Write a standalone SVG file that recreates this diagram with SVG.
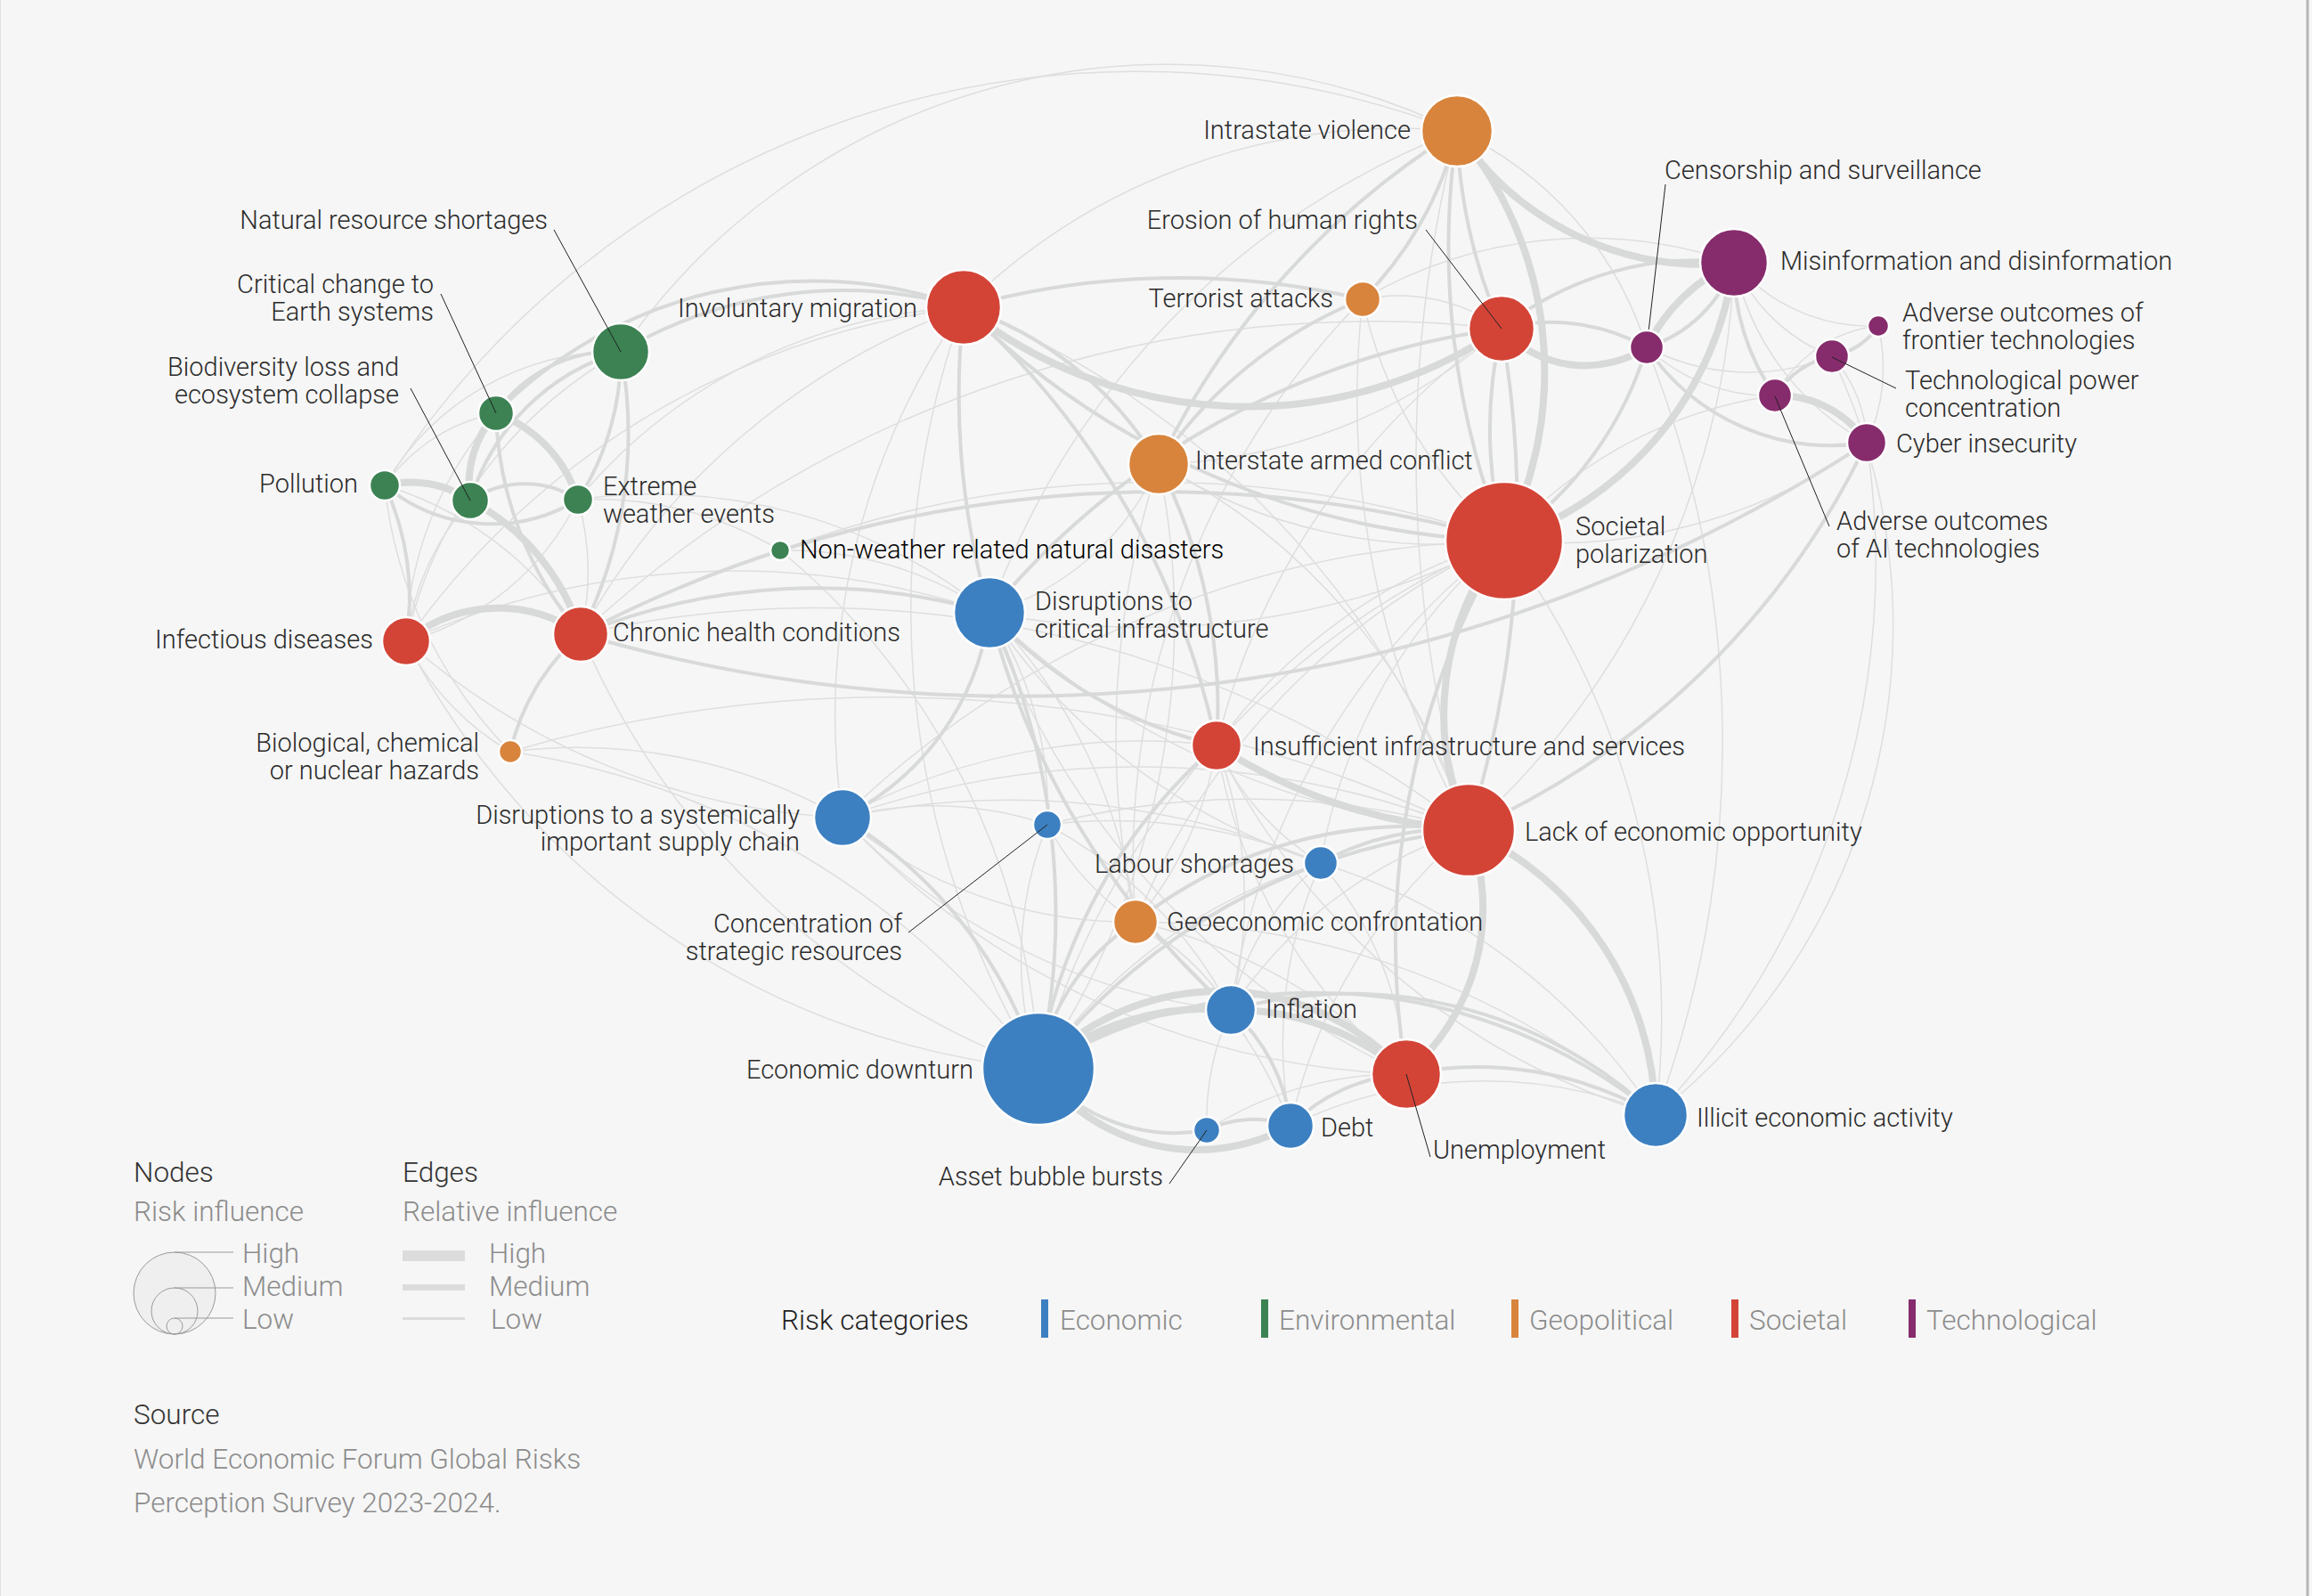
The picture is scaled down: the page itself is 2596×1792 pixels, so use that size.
<svg xmlns="http://www.w3.org/2000/svg" width="2596" height="1792" viewBox="0 0 2596 1792">
<style>
.bg{fill:#f6f6f6}
.e1,.e2,.e3{fill:none;stroke:#d8d9d9;stroke-linecap:round}
.e1{stroke-width:1.5;stroke:#dedede}
.e2{stroke-width:4}
.e3{stroke-width:8}
circle.n{stroke:#fff;stroke-width:2.5}
.eco{fill:#3d80c1}.env{fill:#3c8253}.geo{fill:#d8843d}.soc{fill:#d34437}.tec{fill:#862c6c}
text{font-family:Roboto,"Liberation Sans",Arial,sans-serif;font-weight:300;font-size:29px;fill:#2b2b2b}
.blk{fill:#000}
.ld{stroke:#222;stroke-width:1;fill:none}
.lg{fill:#8c8c8c;font-size:31.5px}
.lh{fill:#333;font-size:31.5px}
.lgl{stroke:#999;stroke-width:1;fill:none}
.bar{fill:#dcdcdc}
</style>
<rect class="bg" x="0" y="0" width="2596" height="1792"/>
<line x1="2591" y1="0" x2="2591" y2="1792" stroke="#b5b5b5" stroke-width="3"/>
<line x1="0.5" y1="0" x2="0.5" y2="1792" stroke="#e2e2e2" stroke-width="1"/>
<g id="connectors">
<path class="e1" d="M1636 147 A745 745 0 0 0 697 395"/>
<path class="e1" d="M1636 147 A1000 1000 0 0 0 432 545"/>
<path class="e1" d="M1636 147 A400 400 0 0 1 1849 390"/>
<path class="e1" d="M1636 147 A1500 1500 0 0 0 1649 932"/>
<path class="e1" d="M1636 147 A700 700 0 0 0 1082 345"/>
<path class="e1" d="M1636 147 A900 900 0 0 0 1111 688"/>
<path class="e1" d="M1530 336 A500 500 0 0 0 1689 607"/>
<path class="e1" d="M1530 336 A200 200 0 0 1 1686 369"/>
<path class="e1" d="M1530 336 A1000 1000 0 0 0 1649 932"/>
<path class="e1" d="M1530 336 A500 500 0 0 1 1947 295"/>
<path class="e1" d="M1530 336 A900 900 0 0 0 1275 1035"/>
<path class="e1" d="M1301 521 A1000 1000 0 0 0 1275 1035"/>
<path class="e1" d="M1301 521 A900 900 0 0 1 1166 1200"/>
<path class="e1" d="M1301 521 A600 600 0 0 0 1689 607"/>
<path class="e1" d="M1301 521 A300 300 0 0 1 1111 688"/>
<path class="e1" d="M1301 521 A700 700 0 0 1 1649 932"/>
<path class="e1" d="M1082 345 A1000 1000 0 0 1 1649 932"/>
<path class="e1" d="M1082 345 A1000 1000 0 0 0 1166 1200"/>
<path class="e1" d="M1082 345 A800 800 0 0 0 652 712"/>
<path class="e1" d="M1082 345 A600 600 0 0 0 649 561"/>
<path class="e1" d="M1082 345 A800 800 0 0 0 946 918"/>
<path class="e1" d="M1082 345 A900 900 0 0 0 456 720"/>
<path class="e1" d="M1947 295 A200 200 0 0 0 2057 400"/>
<path class="e1" d="M1947 295 A200 200 0 0 0 2109 366"/>
<path class="e1" d="M1947 295 A300 300 0 0 0 2096 497"/>
<path class="e1" d="M1947 295 A900 900 0 0 1 1649 932"/>
<path class="e1" d="M1849 390 A200 200 0 0 0 1993 444"/>
<path class="e1" d="M1849 390 A250 250 0 0 0 2057 400"/>
<path class="e1" d="M1849 390 A1200 1200 0 0 1 1859 1252"/>
<path class="e1" d="M2057 400 A150 150 0 0 1 2096 497"/>
<path class="e1" d="M2109 366 A200 200 0 0 1 2096 497"/>
<path class="e1" d="M2109 366 A150 150 0 0 0 1993 444"/>
<path class="e1" d="M2096 497 A600 600 0 0 1 1689 607"/>
<path class="e1" d="M1993 444 A500 500 0 0 0 1689 607"/>
<path class="e1" d="M2096 497 A900 900 0 0 1 1859 1252"/>
<path class="e1" d="M2057 400 A700 700 0 0 1 1859 1252"/>
<path class="e1" d="M1686 369 A600 600 0 0 1 1301 521"/>
<path class="e1" d="M1686 369 A1300 1300 0 0 0 652 712"/>
<path class="e1" d="M1686 369 A800 800 0 0 0 1366 837"/>
<path class="e1" d="M1689 607 A600 600 0 0 0 1366 837"/>
<path class="e1" d="M1689 607 A900 900 0 0 0 1166 1200"/>
<path class="e1" d="M1689 607 A900 900 0 0 1 1859 1252"/>
<path class="e1" d="M1689 607 A800 800 0 0 0 1275 1035"/>
<path class="e1" d="M1689 607 A1100 1100 0 0 0 946 918"/>
<path class="e1" d="M1689 607 A800 800 0 0 0 1382 1134"/>
<path class="e1" d="M1689 607 A600 600 0 0 0 1483 969"/>
<path class="e1" d="M1689 607 A900 900 0 0 1 1111 688"/>
<path class="e1" d="M1111 688 A600 600 0 0 1 1275 1035"/>
<path class="e1" d="M1111 688 A400 400 0 0 1 1176 926"/>
<path class="e1" d="M1111 688 A900 900 0 0 0 1579 1206"/>
<path class="e1" d="M1111 688 A900 900 0 0 0 1649 932"/>
<path class="e1" d="M1111 688 A700 700 0 0 0 1483 969"/>
<path class="e1" d="M946 918 A1000 1000 0 0 1 1649 932"/>
<path class="e1" d="M946 918 A500 500 0 0 0 1275 1035"/>
<path class="e1" d="M946 918 A400 400 0 0 1 1176 926"/>
<path class="e1" d="M946 918 A700 700 0 0 0 1382 1134"/>
<path class="e1" d="M946 918 A900 900 0 0 1 1483 969"/>
<path class="e1" d="M946 918 A700 700 0 0 1 1366 837"/>
<path class="e1" d="M946 918 A900 900 0 0 0 1579 1206"/>
<path class="e1" d="M1366 837 A400 400 0 0 1 1275 1035"/>
<path class="e1" d="M1366 837 A300 300 0 0 0 1483 969"/>
<path class="e1" d="M1366 837 A600 600 0 0 0 1579 1206"/>
<path class="e1" d="M1366 837 A500 500 0 0 1 1382 1134"/>
<path class="e1" d="M1366 837 A800 800 0 0 0 1859 1252"/>
<path class="e1" d="M1649 932 A500 500 0 0 0 1382 1134"/>
<path class="e1" d="M1649 932 A600 600 0 0 0 1449 1264"/>
<path class="e1" d="M1649 932 A900 900 0 0 0 1176 926"/>
<path class="e1" d="M1275 1035 A300 300 0 0 1 1382 1134"/>
<path class="e1" d="M1275 1035 A600 600 0 0 1 1579 1206"/>
<path class="e1" d="M1275 1035 A500 500 0 0 1 1449 1264"/>
<path class="e1" d="M1275 1035 A900 900 0 0 1 1859 1252"/>
<path class="e1" d="M1176 926 A300 300 0 0 0 1275 1035"/>
<path class="e1" d="M1176 926 A400 400 0 0 0 1166 1200"/>
<path class="e1" d="M1176 926 A600 600 0 0 1 1483 969"/>
<path class="e1" d="M1176 926 A500 500 0 0 1 1382 1134"/>
<path class="e1" d="M1483 969 A600 600 0 0 0 1166 1200"/>
<path class="e1" d="M1483 969 A400 400 0 0 1 1579 1206"/>
<path class="e1" d="M1483 969 A300 300 0 0 0 1382 1134"/>
<path class="e1" d="M1483 969 A500 500 0 0 0 1449 1264"/>
<path class="e1" d="M1483 969 A700 700 0 0 1 1859 1252"/>
<path class="e1" d="M1382 1134 A300 300 0 0 0 1355 1269"/>
<path class="e1" d="M1355 1269 A400 400 0 0 1 1579 1206"/>
<path class="e1" d="M697 395 A300 300 0 0 0 432 545"/>
<path class="e1" d="M697 395 A500 500 0 0 0 456 720"/>
<path class="e1" d="M557 464 A200 200 0 0 0 432 545"/>
<path class="e1" d="M557 464 A400 400 0 0 0 456 720"/>
<path class="e1" d="M432 545 A400 400 0 0 1 652 712"/>
<path class="e1" d="M432 545 A500 500 0 0 0 573 844"/>
<path class="e1" d="M528 562 A300 300 0 0 0 456 720"/>
<path class="e1" d="M649 561 A300 300 0 0 1 652 712"/>
<path class="e1" d="M649 561 A300 300 0 0 1 456 720"/>
<path class="e1" d="M649 561 A400 400 0 0 1 876 618"/>
<path class="e1" d="M456 720 A300 300 0 0 0 573 844"/>
<path class="e1" d="M456 720 A900 900 0 0 1 1111 688"/>
<path class="e1" d="M456 720 A800 800 0 0 0 946 918"/>
<path class="e1" d="M573 844 A600 600 0 0 1 946 918"/>
<path class="e1" d="M573 844 A900 900 0 0 1 1166 1200"/>
<path class="e1" d="M876 618 A400 400 0 0 1 1111 688"/>
<path class="e1" d="M876 618 A1200 1200 0 0 1 1689 607"/>
<path class="e1" d="M876 618 A800 800 0 0 1 1166 1200"/>
<path class="e1" d="M652 712 A900 900 0 0 0 1166 1200"/>
<path class="e1" d="M456 720 A900 900 0 0 0 1166 1200"/>
<path class="e1" d="M652 712 A1200 1200 0 0 1 1649 932"/>
<path class="e1" d="M649 561 A600 600 0 0 1 1111 688"/>
<path class="e1" d="M573 844 A1500 1500 0 0 1 1649 932"/>
<path class="e1" d="M1449 1264 A500 500 0 0 1 1859 1252"/>
<path class="e2" d="M1636 147 A900 900 0 0 0 1689 607"/>
<path class="e2" d="M1636 147 A600 600 0 0 0 1686 369"/>
<path class="e2" d="M1636 147 A400 400 0 0 1 1530 336"/>
<path class="e2" d="M1636 147 A900 900 0 0 0 1301 521"/>
<path class="e2" d="M1686 369 A500 500 0 0 0 1689 607"/>
<path class="e2" d="M1686 369 A350 350 0 0 1 1947 295"/>
<path class="e2" d="M1686 369 A220 220 0 0 1 1849 390"/>
<path class="e2" d="M1849 390 A150 150 0 0 0 1947 295"/>
<path class="e2" d="M1530 336 A900 900 0 0 0 1082 345"/>
<path class="e2" d="M1530 336 A500 500 0 0 0 1301 521"/>
<path class="e2" d="M1082 345 A400 400 0 0 1 1301 521"/>
<path class="e2" d="M1082 345 A900 900 0 0 0 1689 607"/>
<path class="e2" d="M1082 345 A900 900 0 0 1 1366 837"/>
<path class="e2" d="M1082 345 A900 900 0 0 0 1111 688"/>
<path class="e2" d="M1301 521 A600 600 0 0 1 1366 837"/>
<path class="e2" d="M1947 295 A250 250 0 0 0 1993 444"/>
<path class="e2" d="M1849 390 A250 250 0 0 0 2096 497"/>
<path class="e2" d="M1849 390 A400 400 0 0 1 1689 607"/>
<path class="e2" d="M1993 444 A100 100 0 0 1 2057 400"/>
<path class="e2" d="M2057 400 A80 80 0 0 0 2109 366"/>
<path class="e2" d="M2096 497 A900 900 0 0 1 1649 932"/>
<path class="e2" d="M652 712 A1745 1745 0 0 0 2096 497"/>
<path class="e2" d="M652 712 A1400 1400 0 0 1 1689 607"/>
<path class="e2" d="M1689 607 A900 900 0 0 0 1579 1206"/>
<path class="e2" d="M1111 688 A300 300 0 0 1 946 918"/>
<path class="e2" d="M1111 688 A800 800 0 0 1 1166 1200"/>
<path class="e2" d="M1111 688 A500 500 0 0 0 1366 837"/>
<path class="e2" d="M1111 688 A900 900 0 0 0 1382 1134"/>
<path class="e2" d="M946 918 A500 500 0 0 1 1166 1200"/>
<path class="e2" d="M1366 837 A600 600 0 0 0 1166 1200"/>
<path class="e2" d="M1649 932 A700 700 0 0 0 1166 1200"/>
<path class="e2" d="M1649 932 A300 300 0 0 0 1483 969"/>
<path class="e2" d="M1649 932 A500 500 0 0 0 1275 1035"/>
<path class="e2" d="M1275 1035 A250 250 0 0 0 1166 1200"/>
<path class="e2" d="M1382 1134 A200 200 0 0 1 1449 1264"/>
<path class="e2" d="M1382 1134 A500 500 0 0 1 1859 1252"/>
<path class="e2" d="M1449 1264 A200 200 0 0 1 1579 1206"/>
<path class="e2" d="M1579 1206 A400 400 0 0 1 1859 1252"/>
<path class="e2" d="M1166 1200 A604 604 0 0 1 1859 1252"/>
<path class="e2" d="M1355 1269 A120 120 0 0 1 1449 1264"/>
<path class="e2" d="M1166 1200 A200 200 0 0 0 1355 1269"/>
<path class="e2" d="M1166 1200 A350 350 0 0 1 1382 1134"/>
<path class="e2" d="M1686 369 A900 900 0 0 0 1111 688"/>
<path class="e2" d="M1686 369 A1200 1200 0 0 1 1649 932"/>
<path class="e2" d="M697 395 A160 160 0 0 0 557 464"/>
<path class="e2" d="M697 395 A250 250 0 0 0 528 562"/>
<path class="e2" d="M697 395 A300 300 0 0 1 649 561"/>
<path class="e2" d="M697 395 A500 500 0 0 1 652 712"/>
<path class="e2" d="M1082 345 A490 490 0 0 0 697 395"/>
<path class="e2" d="M1082 345 A500 500 0 0 0 557 464"/>
<path class="e2" d="M432 545 A187 187 0 0 0 649 561"/>
<path class="e2" d="M528 562 A110 110 0 0 1 649 561"/>
<path class="e2" d="M557 464 A400 400 0 0 0 652 712"/>
<path class="e2" d="M432 545 A300 300 0 0 1 456 720"/>
<path class="e2" d="M652 712 A250 250 0 0 0 573 844"/>
<path class="e2" d="M652 712 A700 700 0 0 1 1111 688"/>
<path class="e3" d="M1636 147 A420 420 0 0 1 1689 607"/>
<path class="e3" d="M1636 147 A330 330 0 0 0 1947 295"/>
<path class="e3" d="M1947 295 A380 380 0 0 1 1689 607"/>
<path class="e3" d="M1686 369 A127 127 0 0 0 1849 390"/>
<path class="e3" d="M1849 390 A200 200 0 0 1 1947 295"/>
<path class="e3" d="M1082 345 A510 510 0 0 0 1686 369"/>
<path class="e3" d="M1689 607 A316 316 0 0 0 1649 932"/>
<path class="e3" d="M1649 932 A245 245 0 0 1 1579 1206"/>
<path class="e3" d="M1649 932 A361 361 0 0 1 1859 1252"/>
<path class="e3" d="M1166 1200 A219 219 0 0 0 1449 1264"/>
<path class="e3" d="M1166 1200 A282 282 0 0 1 1579 1206"/>
<path class="e3" d="M456 720 A162 162 0 0 1 652 712"/>
<path class="e3" d="M432 545 A120 120 0 0 1 528 562"/>
<path class="e3" d="M557 464 A120 120 0 0 0 528 562"/>
<path class="e3" d="M557 464 A150 150 0 0 1 649 561"/>
<path class="e3" d="M528 562 A250 250 0 0 1 652 712"/>
<path class="e3" d="M1993 444 A120 120 0 0 1 2096 497"/>
<path class="e3" d="M1382 1134 A300 300 0 0 0 1166 1200"/>
<path class="e3" d="M1382 1134 A300 300 0 0 1 1579 1206"/>
<path class="e3" d="M1366 837 A600 600 0 0 0 1649 932"/>
</g>
<g id="n-intrastate-violence"><circle class="n geo" cx="1636" cy="147" r="40"/><text x="1584" y="156" text-anchor="end">Intrastate violence</text></g>
<g id="n-censorship"><line class="ld" x1="1870" y1="207" x2="1849" y2="390"/><circle class="n tec" cx="1849" cy="390" r="19"/><text x="1869" y="201">Censorship and surveillance</text></g>
<g id="n-misinformation"><circle class="n tec" cx="1947" cy="295" r="38"/><text x="1999" y="303">Misinformation and disinformation</text></g>
<g id="n-erosion-human-rights"><circle class="n soc" cx="1686" cy="369" r="37"/><line class="ld" x1="1601" y1="258" x2="1686" y2="369"/><text x="1592" y="257" text-anchor="end">Erosion of human rights</text></g>
<g id="n-terrorist-attacks"><circle class="n geo" cx="1530" cy="336" r="20"/><text x="1497" y="345" text-anchor="end">Terrorist attacks</text></g>
<g id="n-involuntary-migration"><circle class="n soc" cx="1082" cy="345" r="42"/><text x="1030" y="356" text-anchor="end">Involuntary migration</text></g>
<g id="n-natural-resource"><circle class="n env" cx="697" cy="395" r="32"/><line class="ld" x1="622" y1="258" x2="697" y2="395"/><text x="615" y="257" text-anchor="end">Natural resource shortages</text></g>
<g id="n-critical-change"><circle class="n env" cx="557" cy="464" r="20"/><line class="ld" x1="495" y1="330" x2="557" y2="464"/><text x="487" y="329" text-anchor="end">Critical change to</text><text x="487" y="360" text-anchor="end">Earth systems</text></g>
<g id="n-biodiversity"><circle class="n env" cx="528" cy="562" r="21"/><line class="ld" x1="461" y1="436" x2="528" y2="562"/><text x="448" y="422" text-anchor="end">Biodiversity loss and</text><text x="448" y="453" text-anchor="end">ecosystem collapse</text></g>
<g id="n-pollution"><circle class="n env" cx="432" cy="545" r="17"/><text x="402" y="553" text-anchor="end">Pollution</text></g>
<g id="n-extreme-weather"><circle class="n env" cx="649" cy="561" r="17"/><text x="677" y="556">Extreme</text><text x="677" y="587">weather events</text></g>
<g id="n-non-weather"><circle class="n env" cx="876" cy="618" r="11"/><text class="blk" x="898" y="627">Non-weather related natural disasters</text></g>
<g id="n-infectious-diseases"><circle class="n soc" cx="456" cy="720" r="27"/><text x="419" y="728" text-anchor="end">Infectious diseases</text></g>
<g id="n-chronic-health"><circle class="n soc" cx="652" cy="712" r="31"/><text x="688" y="720">Chronic health conditions</text></g>
<g id="n-bio-chem-nuclear"><circle class="n geo" cx="573" cy="844" r="13"/><text x="538" y="844" text-anchor="end">Biological, chemical</text><text x="538" y="875" text-anchor="end">or nuclear hazards</text></g>
<g id="n-critical-infrastructure"><circle class="n eco" cx="1111" cy="688" r="40"/><text x="1162" y="685">Disruptions to</text><text x="1162" y="716">critical infrastructure</text></g>
<g id="n-interstate-armed-conflict"><circle class="n geo" cx="1301" cy="521" r="34"/><text x="1342" y="527">Interstate armed conflict</text></g>
<g id="n-societal-polarization"><circle class="n soc" cx="1689" cy="607" r="66"/><text x="1769" y="601">Societal</text><text x="1769" y="632">polarization</text></g>
<g id="n-frontier-tech"><circle class="n tec" cx="2109" cy="366" r="12"/><text x="2136" y="361">Adverse outcomes of</text><text x="2136" y="392">frontier technologies</text></g>
<g id="n-tech-power"><circle class="n tec" cx="2057" cy="400" r="19"/><line class="ld" x1="2129" y1="436" x2="2057" y2="401"/><text x="2139" y="437">Technological power</text><text x="2139" y="468">concentration</text></g>
<g id="n-cyber-insecurity"><circle class="n tec" cx="2096" cy="497" r="22"/><text x="2129" y="508">Cyber insecurity</text></g>
<g id="n-ai-tech"><circle class="n tec" cx="1993" cy="444" r="19"/><line class="ld" x1="2054" y1="591" x2="1993" y2="445"/><text x="2062" y="595">Adverse outcomes</text><text x="2062" y="626">of AI technologies</text></g>
<g id="n-insufficient-infrastructure"><circle class="n soc" cx="1366" cy="837" r="28"/><text x="1407" y="848">Insufficient infrastructure and services</text></g>
<g id="n-lack-econ-opportunity"><circle class="n soc" cx="1649" cy="932" r="52"/><text x="1712" y="944">Lack of economic opportunity</text></g>
<g id="n-supply-chain"><circle class="n eco" cx="946" cy="918" r="32"/><text x="898" y="925" text-anchor="end">Disruptions to a systemically</text><text x="898" y="955" text-anchor="end">important supply chain</text></g>
<g id="n-strategic-resources"><circle class="n eco" cx="1176" cy="926" r="16"/><line class="ld" x1="1020" y1="1047" x2="1176" y2="926"/><text x="1013" y="1047" text-anchor="end">Concentration of</text><text x="1013" y="1078" text-anchor="end">strategic resources</text></g>
<g id="n-labour-shortages"><circle class="n eco" cx="1483" cy="969" r="19"/><text x="1453" y="980" text-anchor="end">Labour shortages</text></g>
<g id="n-geoeconomic"><circle class="n geo" cx="1275" cy="1035" r="25"/><text x="1310" y="1045">Geoeconomic confrontation</text></g>
<g id="n-inflation"><circle class="n eco" cx="1382" cy="1134" r="28"/><text x="1421" y="1143">Inflation</text></g>
<g id="n-economic-downturn"><circle class="n eco" cx="1166" cy="1200" r="63"/><text x="1093" y="1211" text-anchor="end">Economic downturn</text></g>
<g id="n-unemployment"><circle class="n soc" cx="1579" cy="1206" r="39"/><line class="ld" x1="1606" y1="1299" x2="1579" y2="1206"/><text x="1609" y="1301">Unemployment</text></g>
<g id="n-debt"><circle class="n eco" cx="1449" cy="1264" r="26"/><text x="1483" y="1276">Debt</text></g>
<g id="n-asset-bubble"><circle class="n eco" cx="1355" cy="1269" r="15"/><line class="ld" x1="1313" y1="1329" x2="1355" y2="1269"/><text x="1306" y="1331" text-anchor="end">Asset bubble bursts</text></g>
<g id="n-illicit-econ"><circle class="n eco" cx="1859" cy="1252" r="36"/><text x="1905" y="1265">Illicit economic activity</text></g>
<g id="legend-nodes">
<text class="lh" x="150" y="1327">Nodes</text>
<text class="lg" x="150" y="1371">Risk influence</text>
<circle cx="196" cy="1452" r="46" fill="#efefef" stroke="#9a9a9a" stroke-width="1"/>
<circle cx="196" cy="1472" r="26" fill="none" stroke="#9a9a9a" stroke-width="1"/>
<circle cx="196" cy="1489" r="9" fill="none" stroke="#9a9a9a" stroke-width="1"/>
<line class="lgl" x1="196" y1="1406" x2="262" y2="1406"/>
<line class="lgl" x1="196" y1="1446" x2="262" y2="1446"/>
<line class="lgl" x1="196" y1="1480" x2="262" y2="1480"/>
<text class="lg" x="272" y="1418">High</text>
<text class="lg" x="272" y="1455">Medium</text>
<text class="lg" x="272" y="1492">Low</text>
</g>
<g id="legend-edges">
<text class="lh" x="452" y="1327">Edges</text>
<text class="lg" x="452" y="1371">Relative influence</text>
<rect class="bar" x="452" y="1404" width="70" height="12"/>
<rect class="bar" x="452" y="1442" width="70" height="7"/>
<rect class="bar" x="452" y="1479" width="70" height="3"/>
<text class="lg" x="549" y="1418">High</text>
<text class="lg" x="549" y="1455">Medium</text>
<text class="lg" x="551" y="1492">Low</text>
</g>
<g id="legend-categories">
<text x="877" y="1493" style="font-size:31.5px;fill:#222">Risk categories</text>
<rect class="eco" x="1169" y="1459" width="8" height="43"/><text class="lg" x="1190" y="1493">Economic</text>
<rect class="env" x="1416" y="1459" width="8" height="43"/><text class="lg" x="1436" y="1493">Environmental</text>
<rect class="geo" x="1697" y="1459" width="8" height="43"/><text class="lg" x="1717" y="1493">Geopolitical</text>
<rect class="soc" x="1944" y="1459" width="8" height="43"/><text class="lg" x="1964" y="1493">Societal</text>
<rect class="tec" x="2143" y="1459" width="8" height="43"/><text class="lg" x="2163" y="1493">Technological</text>
</g>
<g id="source">
<text class="lh" x="150" y="1599">Source</text>
<text class="lg" x="150" y="1649">World Economic Forum Global Risks</text>
<text class="lg" x="150" y="1698">Perception Survey 2023-2024.</text>
</g>
</svg>
